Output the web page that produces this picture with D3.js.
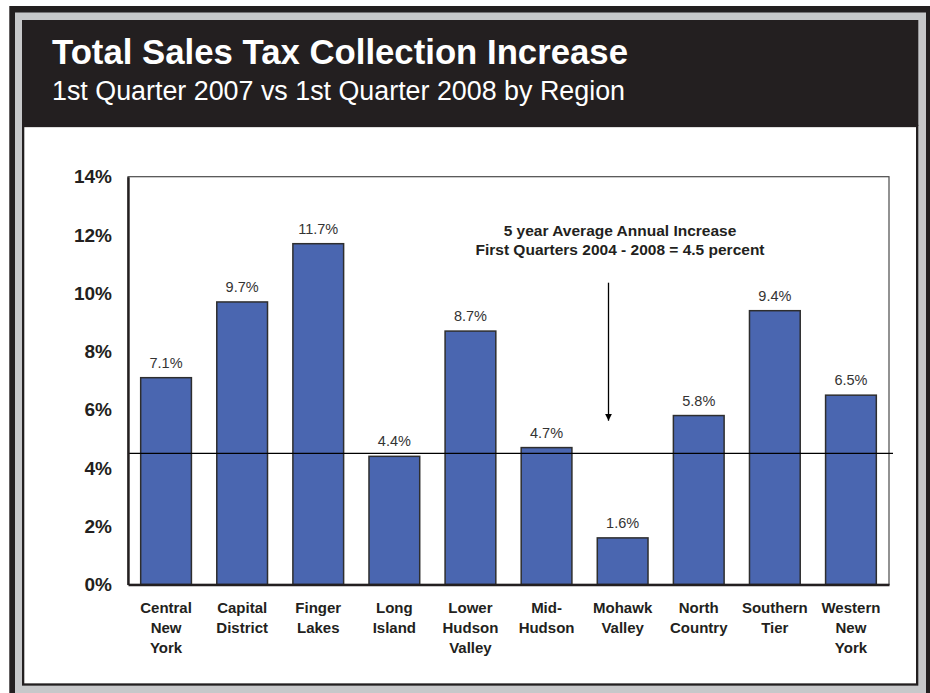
<!DOCTYPE html>
<html>
<head>
<meta charset="utf-8">
<script src="https://cdn.jsdelivr.net/npm/d3@7"></script>
<style>
  html, body { margin: 0; padding: 0; background: #ffffff; }
  svg { display: block; font-family: "Liberation Sans", Arial, Helvetica, sans-serif; }
</style>
</head>
<body>
<svg id="chart" width="930" height="693"></svg>
<script>
// ---- data ----
const categories = [
  ["Central", "New", "York"],
  ["Capital", "District"],
  ["Finger", "Lakes"],
  ["Long", "Island"],
  ["Lower", "Hudson", "Valley"],
  ["Mid-", "Hudson"],
  ["Mohawk", "Valley"],
  ["North", "Country"],
  ["Southern", "Tier"],
  ["Western", "New", "York"]
];
const values = [7.1, 9.7, 11.7, 4.4, 8.7, 4.7, 1.6, 5.8, 9.4, 6.5];
const yTicks = [0, 2, 4, 6, 8, 10, 12, 14];
const averageValue = 4.5;
const titleText = "Total Sales Tax Collection Increase";
const subtitleText = "1st Quarter 2007 vs 1st Quarter 2008 by Region";
const noteLines = ["5 year Average Annual Increase", "First Quarters 2004 - 2008 = 4.5 percent"];

// ---- drawing ----
const svg = d3.select("#chart");
const DARK = "#231f20", GRAY = "#c7c8ca";

// frame
svg.append("rect").attr("x", 9.3).attr("y", 6).attr("width", 940).attr("height", 700).attr("fill", DARK);
svg.append("rect").attr("x", 15).attr("y", 12.5).attr("width", 911).attr("height", 687.5).attr("fill", GRAY);
svg.append("rect").attr("x", 22).attr("y", 20).attr("width", 896.3).attr("height", 106).attr("fill", DARK);
svg.append("rect").attr("x", 23.15).attr("y", 126).attr("width", 894).attr("height", 558.5)
  .attr("fill", "#ffffff").attr("stroke", DARK).attr("stroke-width", 2.3);

// titles
svg.append("text").attr("x", 52).attr("y", 64).attr("fill", "#ffffff")
  .attr("font-size", 35).attr("font-weight", "bold")
  .attr("textLength", 576).attr("lengthAdjust", "spacingAndGlyphs").text(titleText);
svg.append("text").attr("x", 52).attr("y", 100).attr("fill", "#ffffff")
  .attr("font-size", 27)
  .attr("textLength", 573).attr("lengthAdjust", "spacingAndGlyphs").text(subtitleText);

// scales
const x = d3.scaleBand().domain(d3.range(categories.length)).range([128, 889])
  .paddingInner(1/3).paddingOuter(1/6);
const y = d3.scaleLinear().domain([0, 14]).range([584.5, 176.7]);

// plot frame (top/right thin)
svg.append("rect").attr("x", x.range()[0]).attr("y", y(14))
  .attr("width", x.range()[1] - x.range()[0]).attr("height", y(0) - y(14))
  .attr("fill", "none").attr("stroke", "#4a4a4a").attr("stroke-width", 1.2);

// bars
svg.append("g").selectAll("rect").data(values).join("rect")
  .attr("x", (d, i) => x(i)).attr("y", d => y(d))
  .attr("width", x.bandwidth()).attr("height", d => y(0) - y(d))
  .attr("fill", "#4a66b0").attr("stroke", "#2e2e2e").attr("stroke-width", 1.5);

// value labels
svg.append("g").selectAll("text").data(values).join("text")
  .attr("x", (d, i) => x(i) + x.bandwidth() / 2).attr("y", d => y(d) - 10)
  .attr("text-anchor", "middle").attr("font-size", 14.5).attr("fill", "#333333")
  .text(d => d.toFixed(1) + "%");

// average line
svg.append("line").attr("x1", x.range()[0]).attr("x2", 893)
  .attr("y1", y(averageValue)).attr("y2", y(averageValue))
  .attr("stroke", "#000000").attr("stroke-width", 1.2);

// y axis
const yAxis = d3.axisLeft(y).tickValues(yTicks).tickSize(0).tickPadding(16)
  .tickFormat(d => d + "%");
const ga = svg.append("g").attr("transform", `translate(${x.range()[0]},0)`).call(yAxis);
ga.select(".domain").attr("stroke", DARK).attr("stroke-width", 2.4);
ga.selectAll("text").attr("font-size", 19).attr("font-weight", "bold").attr("fill", DARK)
  .attr("font-family", "'Liberation Sans', Arial, sans-serif");

// x axis baseline
const xAxis = d3.axisBottom(x).tickSize(0).tickFormat("");
const gx = svg.append("g").attr("transform", `translate(0,${y(0)})`).call(xAxis);
gx.select(".domain").attr("stroke", DARK).attr("stroke-width", 2.4);

// category labels
const cat = svg.append("g").selectAll("text").data(categories).join("text")
  .attr("text-anchor", "middle").attr("font-size", 15).attr("font-weight", "bold").attr("fill", DARK)
  .attr("x", (d, i) => x(i) + x.bandwidth() / 2).attr("y", 613);
cat.selectAll("tspan").data(d => d).join("tspan")
  .attr("x", function() { return d3.select(this.parentNode).attr("x"); })
  .attr("dy", (d, j) => j === 0 ? 0 : 20).text(d => d);

// annotation
svg.append("g").selectAll("text").data(noteLines).join("text")
  .attr("x", 620).attr("y", (d, i) => 236 + i * 19)
  .attr("text-anchor", "middle").attr("font-size", 15.5).attr("font-weight", "bold").attr("fill", DARK)
  .text(d => d);

// arrow
svg.append("defs").append("marker").attr("id", "arrowhead")
  .attr("viewBox", "0 0 10 10").attr("refX", 10).attr("refY", 5)
  .attr("markerWidth", 7).attr("markerHeight", 7).attr("markerUnits", "userSpaceOnUse")
  .attr("orient", "auto")
  .append("path").attr("d", "M0,0 L10,5 L0,10 Z").attr("fill", "#000");
svg.append("line").attr("x1", 608.5).attr("x2", 608.5).attr("y1", 282.7).attr("y2", 420.7)
  .attr("stroke", "#000").attr("stroke-width", 1.3).attr("marker-end", "url(#arrowhead)");
</script>
</body>
</html>
